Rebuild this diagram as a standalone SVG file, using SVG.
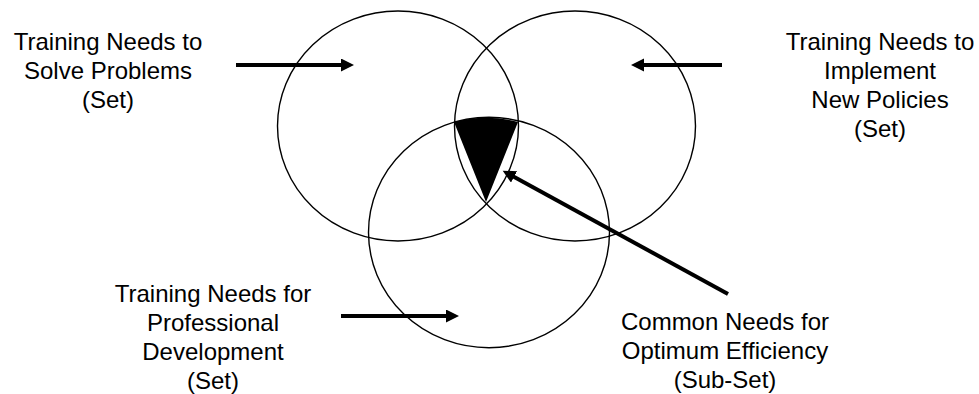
<svg xmlns="http://www.w3.org/2000/svg" width="979" height="394" viewBox="0 0 979 394">
  <style>
    .set { fill: none; stroke: #000; stroke-width: 1.4; }
    .lbl { font-family: "Liberation Sans", Arial, sans-serif; font-size: 24px; fill: #000; text-anchor: middle; }
    .conn { stroke: #000; stroke-width: 4; fill: none; marker-end: url(#ah); }
  </style>
  <defs>
    <marker id="ah" markerUnits="userSpaceOnUse" markerWidth="14" markerHeight="14" refX="5" refY="6.5" orient="auto">
      <path d="M0,0 L13,6.5 L0,13 Z" fill="#000"/>
    </marker>
  </defs>
  <rect width="979" height="394" fill="#fff"/>

  <g id="set-solve-problems">
    <ellipse class="set" cx="398" cy="126" rx="120.5" ry="115"/>
    <text class="lbl" x="108" y="50">Training Needs to</text>
    <text class="lbl" x="108" y="79">Solve Problems</text>
    <text class="lbl" x="108" y="108">(Set)</text>
  </g>

  <g id="set-new-policies">
    <ellipse class="set" cx="575" cy="126" rx="120.5" ry="115"/>
    <text class="lbl" x="880" y="50">Training Needs to</text>
    <text class="lbl" x="880" y="79">Implement</text>
    <text class="lbl" x="880" y="108">New Policies</text>
    <text class="lbl" x="880" y="137">(Set)</text>
  </g>

  <g id="set-professional-development">
    <ellipse class="set" cx="489" cy="232.5" rx="120.5" ry="115.2"/>
    <text class="lbl" x="213" y="302">Training Needs for</text>
    <text class="lbl" x="213" y="331">Professional</text>
    <text class="lbl" x="213" y="360">Development</text>
    <text class="lbl" x="213" y="389">(Set)</text>
  </g>

  <g id="subset-common-needs">
    <path d="M454,122 Q486,113.4 518,122 L486,202 Z" fill="#000"/>
    <text class="lbl" x="725" y="330">Common Needs for</text>
    <text class="lbl" x="725" y="359">Optimum Efficiency</text>
    <text class="lbl" x="725" y="388">(Sub-Set)</text>
  </g>

  <g id="connectors">
    <line class="conn" x1="236" y1="65" x2="346" y2="65"/>
    <line class="conn" x1="722" y1="65" x2="639" y2="65"/>
    <line class="conn" x1="341" y1="316" x2="451" y2="316"/>
    <line class="conn" x1="728" y1="294" x2="509.7" y2="174.5"/>
  </g>
</svg>
